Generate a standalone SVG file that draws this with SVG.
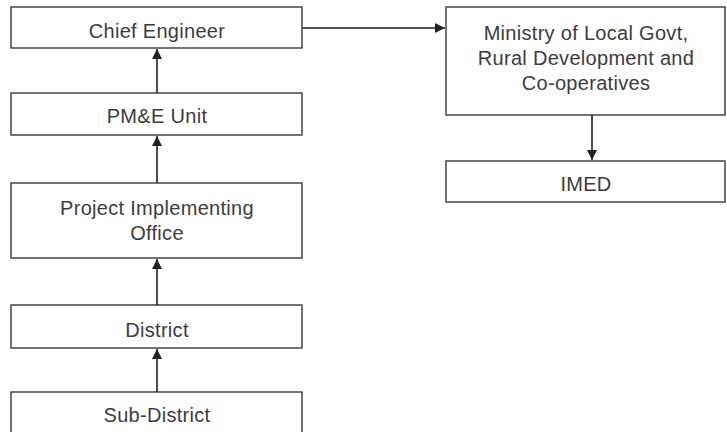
<svg xmlns="http://www.w3.org/2000/svg" width="727" height="432" viewBox="0 0 727 432">
  <defs>
    <marker id="arrow" viewBox="0 0 10 10" refX="10" refY="5" markerWidth="10" markerHeight="10" markerUnits="userSpaceOnUse" orient="auto">
      <path d="M0,0 L10,5 L0,10 Z" fill="#222"/>
    </marker>
    <style>
      .box { fill: #ffffff; stroke: #3a3a3a; stroke-width: 1.4; }
      .label { font-family: "Liberation Sans", Arial, sans-serif; font-size: 20px; letter-spacing: 0.3px; fill: #3c3c3c; text-anchor: middle; }
      .link { fill: none; stroke: #222; stroke-width: 1.6; marker-end: url(#arrow); }
    </style>
  </defs>
  <rect width="727" height="432" fill="#ffffff"/>

  <g id="chief-engineer">
    <rect class="box" x="11" y="7" width="291" height="41"/>
    <text class="label" x="157" y="38">Chief Engineer</text>
  </g>
  <g id="pme-unit">
    <rect class="box" x="11" y="93" width="291" height="42"/>
    <text class="label" x="157" y="123">PM&amp;E Unit</text>
  </g>
  <g id="project-implementing-office">
    <rect class="box" x="11" y="183" width="291" height="75"/>
    <text class="label" x="157" y="215">Project Implementing</text>
    <text class="label" x="157" y="240">Office</text>
  </g>
  <g id="district">
    <rect class="box" x="11" y="305" width="291" height="43"/>
    <text class="label" x="157" y="337">District</text>
  </g>
  <g id="sub-district">
    <rect class="box" x="11" y="392" width="291" height="50"/>
    <text class="label" x="157" y="422">Sub-District</text>
  </g>
  <g id="ministry">
    <rect class="box" x="446" y="7" width="279" height="108"/>
    <text class="label" x="586" y="40">Ministry of Local Govt,</text>
    <text class="label" x="586" y="65">Rural Development and</text>
    <text class="label" x="586" y="90">Co-operatives</text>
  </g>
  <g id="imed">
    <rect class="box" x="446" y="161" width="279" height="41"/>
    <text class="label" x="586" y="191">IMED</text>
  </g>

  <g id="connectors">
    <line class="link" x1="157" y1="93" x2="157" y2="49"/>
    <line class="link" x1="157" y1="183" x2="157" y2="136"/>
    <line class="link" x1="157" y1="305" x2="157" y2="259"/>
    <line class="link" x1="157" y1="392" x2="157" y2="349"/>
    <line class="link" x1="302" y1="28" x2="445" y2="28"/>
    <line class="link" x1="592" y1="115" x2="592" y2="160"/>
  </g>
</svg>
